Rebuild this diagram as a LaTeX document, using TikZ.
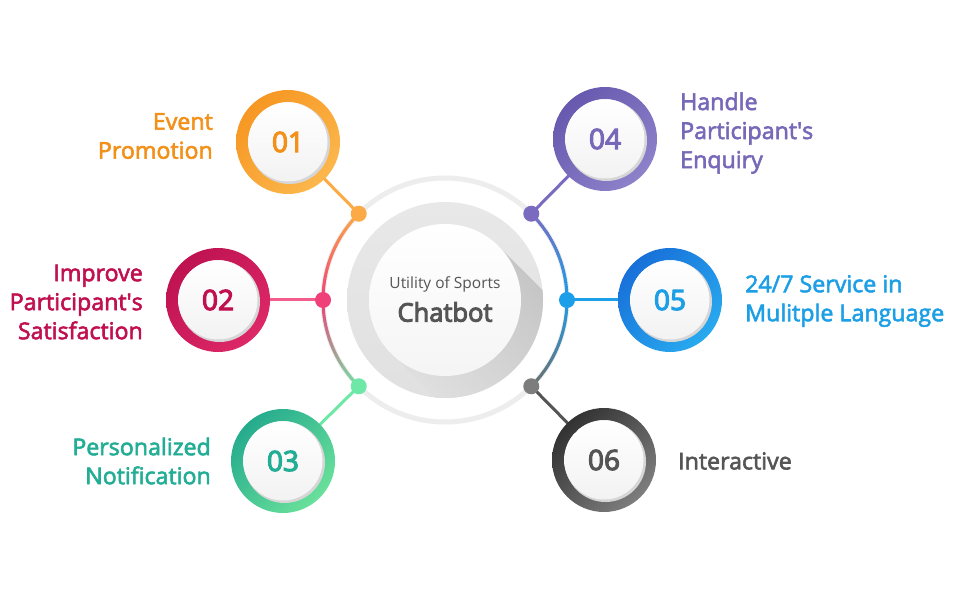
\documentclass[tikz,border=0pt]{standalone}
\usepackage{fontspec}
\setmainfont{Open Sans}
\newfontfamily\semi{Open Sans}[FakeBold=2.5]
\newfontfamily\semib{Open Sans}[FakeBold=4]
\usetikzlibrary{calc,shadings}
\definecolor{corange}{HTML}{FBAA45}
\definecolor{cpink}{HTML}{F0407A}
\definecolor{cgreen}{HTML}{6EE8A6}
\definecolor{cpurple}{HTML}{7B6BC0}
\definecolor{cblue}{HTML}{1C9EE8}
\definecolor{cgray}{HTML}{6E6E6E}
\definecolor{tOrange}{HTML}{F39019}
\definecolor{tCrimson}{HTML}{C0104F}
\definecolor{tTeal}{HTML}{22AD95}
\definecolor{tPurple}{HTML}{7768B8}
\definecolor{tBlue}{HTML}{1D9FE6}
\definecolor{tGray}{HTML}{555555}
\definecolor{r1a}{HTML}{F5901A}\definecolor{r1b}{HTML}{FDBE55}
\definecolor{r2a}{HTML}{B80E4C}\definecolor{r2b}{HTML}{E42C6C}
\definecolor{r3a}{HTML}{17A08A}\definecolor{r3b}{HTML}{78EC9E}
\definecolor{r4a}{HTML}{5F50A8}\definecolor{r4b}{HTML}{968AD0}
\definecolor{r5a}{HTML}{1464D4}\definecolor{r5b}{HTML}{2CB6F4}
\definecolor{r6a}{HTML}{222222}\definecolor{r6b}{HTML}{8E8E8E}
\tikzset{
  lbl/.style={font=\semi\fontsize{23.2}{29}\selectfont, inner sep=0pt},
  numtxt/.style={font=\semib\fontsize{28}{30}\selectfont, inner sep=0pt},
  conn/.style={line width=3pt},
  dotc/.style={circle, minimum size=16pt, inner sep=0pt},
}
\newcommand{\numring}[4]{% name, pos, colA, colB
  \coordinate (#1) at #2;
  \shade[even odd rule, upper left=#3, lower right=#4, upper right=#3!50!#4, lower left=#3!50!#4]
     (#1) circle[radius=52pt] (#1) circle[radius=40pt];
  \fill[black!16] ($(#1)+(1.5,-1.5)$) circle[radius=40.5pt];
  \shade[top color=white, bottom color=black!5] (#1) circle[radius=39.5pt];
}
\begin{document}
\begin{tikzpicture}[x=1pt,y=1pt]
\useasboundingbox (0,0) rectangle (960,600);
\fill[white] (0,0) rectangle (960,600);
\coordinate (C) at (445,300);
% outer light ring
\draw[line width=5pt, black!7] (C) circle[radius=122pt];
% colored arcs
\foreach \a in {135,136,...,179}{
  \pgfmathtruncatemacro{\p}{(\a-135)/45*100}
  \draw[line width=3pt, draw=cpink!\p!corange] ($(C)+(\a:122)$) arc[start angle=\a, end angle=\a+1.3, radius=122pt];
}
\foreach \a in {180,181,...,224}{
  \pgfmathtruncatemacro{\p}{(\a-180)/45*100}
  \draw[line width=3pt, draw=cgreen!\p!cpink] ($(C)+(\a:122)$) arc[start angle=\a, end angle=\a+1.3, radius=122pt];
}
\foreach \a in {0,1,...,44}{
  \pgfmathtruncatemacro{\p}{\a/45*100}
  \draw[line width=3pt, draw=cpurple!\p!cblue] ($(C)+(\a:122)$) arc[start angle=\a, end angle=\a+1.3, radius=122pt];
}
\foreach \a in {-45,-44,...,-1}{
  \pgfmathtruncatemacro{\p}{(\a+45)/45*100}
  \draw[line width=3pt, draw=cblue!\p!cgray] ($(C)+(\a:122)$) arc[start angle=\a, end angle=\a+1.3, radius=122pt];
}
% central disc
\shade[top color=black!9, bottom color=black!12] (C) circle[radius=98pt];
\begin{scope}
  \clip (C) circle[radius=98pt];
  \shade[left color=black!24, right color=black!11, shading angle=-45]
    ($(C)+(45:76)$) -- ++(-45:140) -- ($(C)+(-135:76)+(-45:140)$) -- ($(C)+(-135:76)$) -- cycle;
\end{scope}
\shade[top color=white, bottom color=black!4] (C) circle[radius=76pt];
\node[inner sep=0pt, text=tGray, font=\fontsize{15.5}{18}\selectfont] (t1) at (445,316) {Utility of Sports};
\node[inner sep=0pt, text=tGray, font=\semib\fontsize{25.5}{28}\selectfont] (t2) at (445,288) {Chatbot};
% dots
\coordinate (d1) at ($(C)+(135:122)$);
\coordinate (d2) at ($(C)+(180:122)$);
\coordinate (d3) at ($(C)+(225:122)$);
\coordinate (d4) at ($(C)+(45:122)$);
\coordinate (d5) at ($(C)+(0:122)$);
\coordinate (d6) at ($(C)+(-45:122)$);
% connectors
\draw[conn, color=corange] (d1) -- (288,458);
\draw[conn, color=cpink!85!white] (d2) -- (218,300);
\draw[conn, color=cgreen] (d3) -- (283,139);
\draw[conn, color=cpurple] (d4) -- (605,461);
\draw[conn, color=cblue] (d5) -- (670,300);
\draw[conn, color=tGray] (d6) -- (604,140);
\node[dotc, fill=corange] (D1) at (d1) {};
\node[dotc, fill=cpink] (D2) at (d2) {};
\node[dotc, fill=cgreen] (D3) at (d3) {};
\node[dotc, fill=cpurple] (D4) at (d4) {};
\node[dotc, fill=cblue] (D5) at (d5) {};
\node[dotc, fill=cgray!90] (D6) at (d6) {};
% number rings
\numring{n1}{(288,458)}{r1a}{r1b}
\numring{n2}{(218,300)}{r2a}{r2b}
\numring{n3}{(283,139)}{r3a}{r3b}
\numring{n4}{(605,461)}{r4a}{r4b}
\numring{n5}{(670,300)}{r5a}{r5b}
\numring{n6}{(604,140)}{r6a}{r6b}
\node[numtxt, text=tOrange] (N1) at (n1) {01};
\node[numtxt, text=tCrimson] (N2) at (n2) {02};
\node[numtxt, text=tTeal] (N3) at (n3) {03};
\node[numtxt, text=tPurple] (N4) at (n4) {04};
\node[numtxt, text=tBlue] (N5) at (n5) {05};
\node[numtxt, text=tGray] (N6) at (n6) {06};
% labels
\node[lbl, text=tOrange, anchor=east, align=right] (L1) at (213,464) {Event\\Promotion};
\node[lbl, text=tCrimson, anchor=east, align=right] (L2) at (143,298) {Improve\\Participant\textquotesingle s\\Satisfaction};
\node[lbl, text=tTeal, anchor=east, align=right] (L3) at (211,139) {Personalized\\Notification};
\node[lbl, text=tPurple, anchor=west, align=left] (L4) at (680,467) {Handle\\Participant\textquotesingle s\\Enquiry};
\node[lbl, text=tBlue, anchor=west, align=left] (L5) at (745,299) {24/7 Service in\\Mulitple Language};
\node[lbl, text=tGray, anchor=west, align=left] (L6) at (678,139) {Interactive};
\end{tikzpicture}
\end{document}
